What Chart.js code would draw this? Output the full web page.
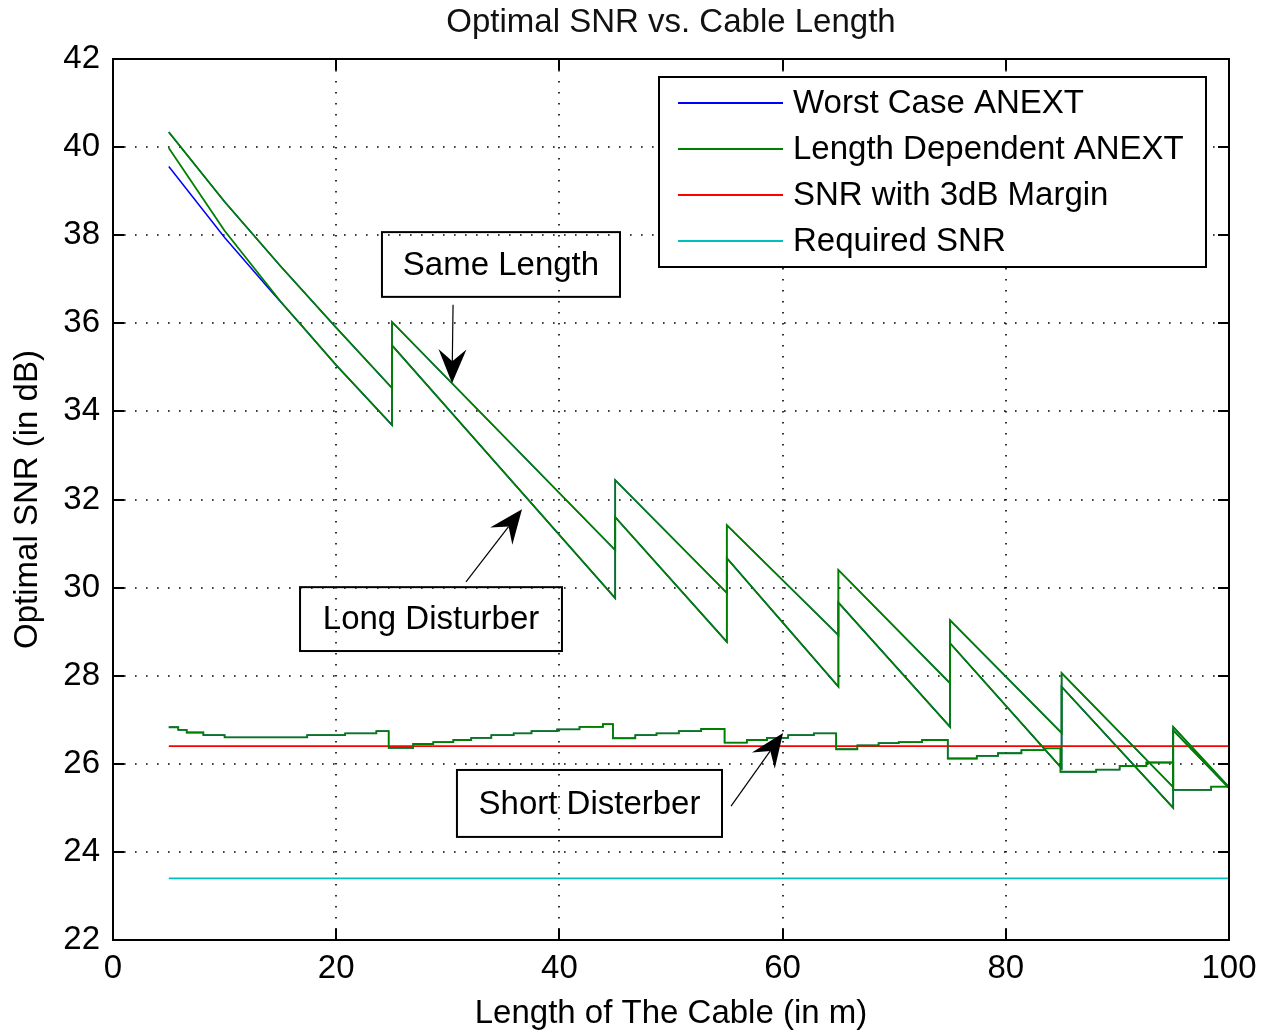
<!DOCTYPE html>
<html>
<head>
<meta charset="utf-8">
<script src="https://cdn.jsdelivr.net/npm/chart.js@4.4.1/dist/chart.umd.min.js"></script>
<style>
html,body{margin:0;padding:0;background:#fff;}
#wrap{width:1262px;height:1034px;position:relative;}
</style>
</head>
<body>
<div id="wrap"><canvas id="c" width="1262" height="1034"></canvas></div>
<script>
// ---------------- DATA ----------------
const chartTitle = 'Optimal SNR vs. Cable Length';
const xTickValues = [0, 20, 40, 60, 80, 100];
const yTickValues = [22, 24, 26, 28, 30, 32, 34, 36, 38, 40, 42];

// "Same Length" curve (upper saw-tooth)
const sameLenX = [5, 10, 15, 20, 25, 25, 45, 45, 55, 55, 65, 65, 75, 75, 85, 85, 95, 95, 100];
const sameLenY = [40.34, 38.76, 37.3, 35.9, 34.53, 36.03, 30.85, 32.44, 29.88, 31.42, 28.92, 30.40, 27.83, 29.26, 26.70, 28.06, 25.47, 26.84, 25.47];

// "Long Disturber" curve (lower saw-tooth), length dependent
const longDistX = [5, 10, 15, 20, 25, 25, 45, 45, 55, 55, 65, 65, 75, 75, 85, 85, 95, 95, 100];
const longDistY = [39.98, 38.1, 36.5, 35.05, 33.69, 35.5, 29.76, 31.6, 28.77, 30.67, 27.75, 29.66, 26.84, 28.74, 25.9, 27.75, 25.0, 26.76, 25.45];

// worst case version of the long disturber curve (differs at short lengths)
const longWorstX = [5, 10, 14, 17, 20, 25, 25, 45, 45, 55, 55, 65, 65, 75, 75, 85, 85, 95, 95, 100];
const longWorstY = [39.56, 37.95, 36.78, 35.92, 35.05, 33.69, 35.5, 29.76, 31.6, 28.77, 30.67, 27.75, 29.66, 26.84, 28.74, 25.9, 27.75, 25.0, 26.76, 25.45];

// "Short Disterber" curve (staircase: value changes at each x)
const shortDistX = [5, 5.85, 6.6, 8.1, 10.0, 17.4, 20.8, 23.6, 24.7, 26.9, 28.7, 30.5, 32.1, 33.9, 35.9, 37.5, 39.8, 41.8, 43.9,
                    44.8, 46.8, 48.7, 50.7, 52.7, 54.8, 56.8, 58.6, 60.5, 62.8, 64.8, 66.7, 68.6, 70.4, 72.5,
                    74.8, 77.4, 79.3, 81.4, 83.4, 84.9, 88.1, 90.2, 92.6, 95.0, 98.4, 100];
const shortDistY = [26.83, 26.77, 26.71, 26.65, 26.60, 26.65, 26.69, 26.74, 26.36, 26.45, 26.49, 26.54, 26.59, 26.65, 26.69, 26.74, 26.78, 26.84, 26.90,
                    26.58, 26.65, 26.69, 26.74, 26.79, 26.48, 26.54, 26.59, 26.65, 26.69, 26.33, 26.42, 26.47, 26.49, 26.54,
                    26.12, 26.18, 26.24, 26.31, 26.35, 25.82, 25.87, 25.95, 26.03, 25.41, 25.48, 25.48];

const marginX = [5, 100];
const marginY = [26.4, 26.4];
const requiredX = [5, 100];
const requiredY = [23.4, 23.4];

const seriesLabels = ['Worst Case ANEXT', 'Length Dependent ANEXT', 'SNR with 3dB Margin', 'Required SNR'];
const seriesColors = ['#0000ff', '#008000', '#ff0000', '#00bfbf'];

// annotation texts with their boxes / arrows in data coordinates
const annotations = [
  {text: 'Same Length',     box: [24.10, 38.07, 45.43, 36.60], arrow: [30.47, 36.42, 30.38, 34.64]},
  {text: 'Long Disturber',  box: [16.76, 30.01, 40.23, 28.56], arrow: [31.63, 30.13, 36.65, 31.78]},
  {text: 'Short Disterber', box: [30.82, 25.86, 54.57, 24.34], arrow: [55.38, 25.04, 60.04, 26.70]}
];

// ---------------- BUILD ----------------
const pts = (xs, ys) => xs.map((v, i) => ({x: v, y: ys[i]}));
const FONT = '"Liberation Sans", Arial, Helvetica, sans-serif';
const FS = 33;

function ds(label, color, xs, ys, order, stepped, width) {
  return {
    label, data: pts(xs, ys), borderColor: color, backgroundColor: color,
    showLine: true, pointRadius: 0, borderWidth: width || 1.8, tension: 0, fill: false,
    order, stepped: stepped ? 'before' : false
  };
}

const datasets = [
  ds(seriesLabels[0], seriesColors[0], sameLenX, sameLenY, 2, false, 1.3),
  ds(seriesLabels[0], seriesColors[0], longWorstX, longWorstY, 2, false, 1.5),
  ds(seriesLabels[0], seriesColors[0], shortDistX, shortDistY, 2, true, 1.3),
  ds(seriesLabels[1], seriesColors[1], sameLenX, sameLenY, 0),
  ds(seriesLabels[1], seriesColors[1], longDistX, longDistY, 0),
  ds(seriesLabels[1], seriesColors[1], shortDistX, shortDistY, 0, true),
  ds(seriesLabels[2], seriesColors[2], marginX, marginY, 1),
  ds(seriesLabels[3], seriesColors[3], requiredX, requiredY, 1)
];

const bgPlugin = {
  id: 'bg',
  beforeDraw(chart) {
    const ctx = chart.ctx;
    ctx.save(); ctx.fillStyle = '#fff'; ctx.fillRect(0, 0, chart.width, chart.height); ctx.restore();
  }
};

function drawArrow(ctx, x1, y1, x2, y2) {
  const ang = Math.atan2(y2 - y1, x2 - x1);
  const L = 34, W = 14, N = 22;
  ctx.beginPath(); ctx.lineWidth = 1.2; ctx.moveTo(x1, y1);
  ctx.lineTo(x2 - Math.cos(ang) * N, y2 - Math.sin(ang) * N); ctx.stroke();
  const c = Math.cos(ang), s = Math.sin(ang);
  const bx = x2 - c * L, by = y2 - s * L;
  ctx.beginPath();
  ctx.moveTo(x2, y2);
  ctx.lineTo(bx - s * W, by + c * W);
  ctx.lineTo(x2 - c * N, y2 - s * N);
  ctx.lineTo(bx + s * W, by - c * W);
  ctx.closePath(); ctx.fill();
}

const matlabAxes = {
  id: 'matlabAxes',
  beforeDatasetsDraw(chart) {
    const {ctx, chartArea: a, scales: {x, y}} = chart;
    ctx.save();
    ctx.strokeStyle = '#000'; ctx.lineWidth = 1.6; ctx.setLineDash([1.6, 9.4]);
    xTickValues.forEach(v => {
      if (v === x.min || v === x.max) return;
      const px = Math.round(x.getPixelForValue(v));
      ctx.beginPath(); ctx.moveTo(px, a.top); ctx.lineTo(px, a.bottom); ctx.stroke();
    });
    yTickValues.forEach(v => {
      if (v === y.min || v === y.max) return;
      const py = Math.round(y.getPixelForValue(v));
      ctx.beginPath(); ctx.moveTo(a.left, py); ctx.lineTo(a.right, py); ctx.stroke();
    });
    ctx.restore();
  },
  afterDatasetsDraw(chart) {
    const {ctx, chartArea: a, scales: {x, y}} = chart;
    ctx.save();
    ctx.strokeStyle = '#000'; ctx.fillStyle = '#000'; ctx.setLineDash([]);
    // title, centred over the axes
    ctx.font = FS + 'px ' + FONT;
    ctx.textAlign = 'center'; ctx.textBaseline = 'middle';
    ctx.fillStyle = '#111';
    ctx.fillText(chartTitle, (a.left + a.right) / 2, 23);
    ctx.fillStyle = '#000';
    // frame
    ctx.lineWidth = 2;
    ctx.strokeRect(a.left, a.top, a.right - a.left, a.bottom - a.top);
    // inward ticks
    const TL = 11;
    xTickValues.forEach(v => {
      const px = Math.round(x.getPixelForValue(v));
      ctx.beginPath();
      ctx.moveTo(px, a.bottom); ctx.lineTo(px, a.bottom - TL);
      ctx.moveTo(px, a.top); ctx.lineTo(px, a.top + TL);
      ctx.stroke();
    });
    yTickValues.forEach(v => {
      const py = Math.round(y.getPixelForValue(v));
      ctx.beginPath();
      ctx.moveTo(a.left, py); ctx.lineTo(a.left + TL, py);
      ctx.moveTo(a.right, py); ctx.lineTo(a.right - TL, py);
      ctx.stroke();
    });
    // annotations
    annotations.forEach(an => {
      const bx1 = x.getPixelForValue(an.box[0]), by1 = y.getPixelForValue(an.box[1]);
      const bx2 = x.getPixelForValue(an.box[2]), by2 = y.getPixelForValue(an.box[3]);
      ctx.lineWidth = 2;
      ctx.strokeRect(bx1, by1, bx2 - bx1, by2 - by1);
      ctx.fillText(an.text, (bx1 + bx2) / 2, (by1 + by2) / 2 + 1);
      drawArrow(ctx, x.getPixelForValue(an.arrow[0]), y.getPixelForValue(an.arrow[1]),
                     x.getPixelForValue(an.arrow[2]), y.getPixelForValue(an.arrow[3]));
    });
    // legend (MATLAB style, inside axes, north-east)
    const lw = 547, lh = 190;
    const lx = a.right - 23 - lw, ly = a.top + 18;
    ctx.fillStyle = '#fff';
    ctx.fillRect(lx, ly, lw, lh);
    ctx.lineWidth = 2; ctx.strokeStyle = '#000';
    ctx.strokeRect(lx, ly, lw, lh);
    ctx.textAlign = 'left';
    seriesLabels.forEach((lab, i) => {
      const ry = ly + 26 + i * 46;
      ctx.strokeStyle = seriesColors[i]; ctx.lineWidth = 2;
      ctx.beginPath(); ctx.moveTo(lx + 19, ry); ctx.lineTo(lx + 124, ry); ctx.stroke();
      ctx.fillStyle = '#000';
      ctx.fillText(lab, lx + 134, ry + 1);
    });
    ctx.restore();
  }
};

Chart.defaults.font.family = FONT;
Chart.defaults.font.size = FS;
Chart.defaults.color = '#000';

new Chart(document.getElementById('c'), {
  type: 'scatter',
  data: {datasets},
  options: {
    responsive: false,
    animation: false,
    devicePixelRatio: 1,
    layout: {padding: {left: 0, right: 33, top: 59, bottom: 0}},
    plugins: {
      legend: {display: false},
      tooltip: {enabled: false},
      title: {display: false}
    },
    scales: {
      x: {
        type: 'linear', min: 0, max: 100,
        afterBuildTicks: s => { s.ticks = xTickValues.map(v => ({value: v})); },
        ticks: {padding: 9, maxRotation: 0, autoSkip: false, color: '#000'},
        grid: {display: false, drawTicks: false},
        border: {display: false},
        title: {display: true, text: 'Length of The Cable (in m)', padding: {top: 0, bottom: 0}, color: '#000'},
        afterFit: s => { s.height = 94; s.paddingRight = 10; s.paddingLeft = 0; }
      },
      y: {
        type: 'linear', min: 22, max: 42,
        afterBuildTicks: s => { s.ticks = yTickValues.map(v => ({value: v})); },
        ticks: {padding: 13, autoSkip: false, color: '#000'},
        grid: {display: false, drawTicks: false},
        border: {display: false},
        title: {display: true, text: 'Optimal SNR (in dB)', padding: {top: 8, bottom: 0}, color: '#000'},
        afterFit: s => { s.width = 113; }
      }
    }
  },
  plugins: [bgPlugin, matlabAxes]
});
</script>
</body>
</html>
